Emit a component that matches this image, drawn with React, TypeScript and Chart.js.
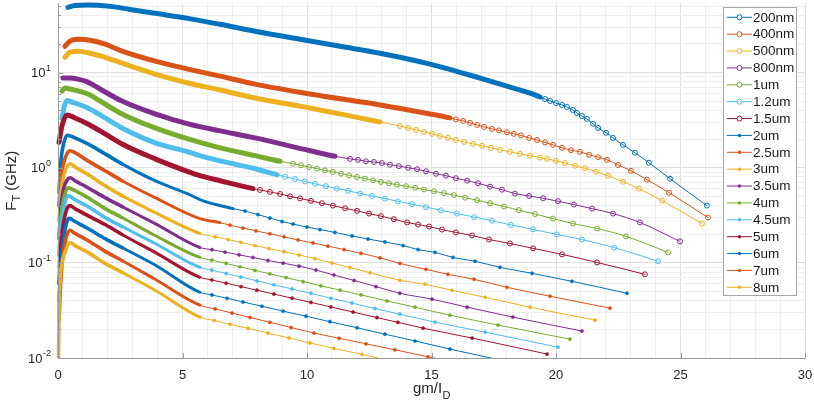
import React, { useEffect, useRef } from "react";
import { Chart, registerables } from "chart.js";

Chart.register(...registerables);

type P = [number, number];

const FONT = '"Liberation Sans", Arial, Helvetica, sans-serif';

const seriesNames = ["200nm", "400nm", "500nm", "800nm", "1um", "1.2um", "1.5um", "2um", "2.5um", "3um", "3.5um", "4um", "4.5um", "5um", "6um", "7um", "8um"];
const seriesColors = ["#0072BD", "#D95319", "#EDB120", "#7E2F8E", "#77AC30", "#4DBEEE", "#A2142F", "#0072BD", "#D95319", "#EDB120", "#7E2F8E", "#77AC30", "#4DBEEE", "#A2142F", "#0072BD", "#D95319", "#EDB120"];
const markerKinds = ["o", "o", "o", "o", "o", "o", "o", ".", ".", ".", ".", ".", ".", ".", ".", ".", "."];
// x beyond which individual markers become visible (before: overlapping markers form a band)
const denseUntil = [19.4, 15.8, 13.0, 11.2, 9.0, 8.85, 7.9, 7.1, 6.6, 5.8, 5.8, 5.8, 5.8, 5.8, 5.8, 5.8, 5.8];

const xTickValues = [0, 5, 10, 15, 20, 25, 30];
const xTickLabels = ["0", "5", "10", "15", "20", "25", "30"];
const yTickExponents = [-2, -1, 0, 1];
const xMin = 0;
const xMax = 30;
const yMin = 0.01;
const yMax = 53.3;
const xTitle = "gm/I";
const xTitleSub = "D";
const yTitle = "F";
const yTitleSub = "T";
const yTitleRest = " (GHz)";

const s200nm: P[] = [[0.40,48.5],[0.68,50.8],[1.20,51.5],[2.09,49.7],[2.89,46.2],[3.90,42.0],[5.22,37.2],[6.51,32.2],[7.91,27.2],[9.72,22.4],[11.33,18.9],[12.93,16.0],[14.94,12.3],[16.95,8.76],[18.15,7.05],[18.96,6.10],[19.36,5.54],[19.56,5.28],[19.76,5.03],[20.00,4.79],[20.24,4.57],[20.44,4.35],[20.68,4.05],[20.84,3.77],[21.04,3.50],[21.24,3.26],[21.49,2.89],[21.69,2.62],[22.01,2.33],[22.29,2.06],[22.69,1.74],[23.17,1.44],[23.73,1.13],[24.58,0.767],[26.06,0.40]];
const s400nm: P[] = [[0.28,18.9],[0.48,21.4],[0.80,22.4],[1.29,21.9],[1.89,19.9],[2.57,16.8],[3.90,13.2],[5.22,10.9],[6.51,9.19],[7.91,7.58],[10.12,5.96],[12.93,4.57],[14.94,3.68],[15.74,3.34],[15.98,3.22],[16.27,3.11],[16.55,2.96],[16.83,2.82],[17.11,2.69],[17.43,2.56],[17.71,2.47],[18.03,2.36],[18.31,2.27],[18.59,2.19],[18.92,2.06],[19.24,1.96],[19.56,1.85],[19.88,1.74],[20.24,1.62],[20.60,1.53],[20.96,1.47],[21.33,1.37],[21.69,1.29],[22.05,1.21],[22.49,1.07],[23.01,0.93],[23.65,0.75],[24.54,0.547],[26.10,0.300]];
const s500nm: P[] = [[0.28,14.5],[0.48,16.4],[0.80,16.8],[1.29,16.0],[1.89,14.5],[2.57,12.6],[3.90,9.65],[5.22,7.77],[6.51,6.56],[7.91,5.41],[10.12,4.25],[12.93,3.03],[13.73,2.75],[14.06,2.62],[14.38,2.50],[14.70,2.38],[15.02,2.27],[15.34,2.16],[15.66,2.06],[15.98,1.96],[16.31,1.87],[16.67,1.78],[17.03,1.70],[17.39,1.62],[17.75,1.54],[18.15,1.47],[18.55,1.40],[18.96,1.34],[19.36,1.28],[19.64,1.24],[20.00,1.18],[20.36,1.12],[20.76,1.05],[21.16,0.988],[21.61,0.908],[22.09,0.825],[22.69,0.714],[23.33,0.603],[24.26,0.451],[25.86,0.259]];
const s800nm: P[] = [[0.20,8.76],[0.48,8.76],[0.80,8.55],[1.20,7.95],[1.69,6.72],[2.57,5.03],[3.90,3.68],[5.22,2.89],[6.51,2.44],[7.91,2.06],[10.12,1.51],[11.12,1.32],[11.73,1.24],[12.05,1.21],[12.37,1.17],[12.69,1.15],[13.01,1.12],[13.33,1.075],[13.69,1.04],[14.06,1.00],[14.42,0.964],[14.78,0.919],[15.18,0.865],[15.58,0.825],[15.98,0.776],[16.43,0.731],[16.87,0.688],[17.35,0.633],[17.83,0.588],[18.35,0.535],[18.92,0.505],[19.48,0.478],[20.08,0.445],[20.72,0.41],[21.45,0.372],[22.29,0.330],[23.37,0.266],[24.98,0.168]];
const s1um: P[] = [[0.16,6.40],[0.28,6.88],[0.48,6.72],[1.20,5.96],[1.89,4.68],[2.57,3.68],[3.90,2.62],[5.22,2.01],[6.51,1.62],[7.91,1.34],[8.92,1.17],[9.44,1.104],[9.76,1.060],[10.08,1.019],[10.40,0.979],[10.72,0.939],[11.04,0.904],[11.37,0.868],[11.69,0.833],[12.01,0.799],[12.33,0.769],[12.65,0.738],[12.97,0.710],[13.29,0.687],[13.61,0.664],[13.98,0.639],[14.34,0.615],[14.70,0.591],[15.10,0.565],[15.50,0.541],[15.90,0.515],[16.35,0.485],[16.83,0.456],[17.35,0.425],[17.91,0.391],[18.51,0.359],[19.16,0.326],[19.88,0.292],[20.68,0.259],[21.65,0.230],[22.81,0.190],[24.50,0.129]];
const s1p2um: P[] = [[0.16,3.3],[0.24,4.3],[0.36,5.1],[0.56,4.91],[1.20,4.25],[1.89,3.34],[2.57,2.62],[3.90,1.83],[5.22,1.47],[5.70,1.34],[6.51,1.18],[7.91,0.976],[8.80,0.843],[9.12,0.805],[9.52,0.760],[9.92,0.717],[10.32,0.678],[10.76,0.640],[11.20,0.605],[11.65,0.572],[12.13,0.537],[12.61,0.506],[13.13,0.474],[13.65,0.444],[14.22,0.414],[14.78,0.386],[15.38,0.357],[16.02,0.330],[16.71,0.303],[17.43,0.277],[18.19,0.251],[19.08,0.225],[20.04,0.199],[21.04,0.176],[22.33,0.145],[24.10,0.104]];
const s1p5um: P[] = [[0.04,1.85],[0.16,2.75],[0.36,3.59],[0.68,3.34],[1.20,2.89],[1.89,2.27],[2.57,1.78],[3.90,1.24],[5.22,0.91],[5.70,0.825],[6.51,0.731],[7.83,0.603],[8.11,0.584],[8.51,0.557],[8.92,0.530],[9.32,0.500],[9.72,0.476],[10.16,0.449],[10.60,0.424],[11.04,0.400],[11.53,0.375],[12.01,0.352],[12.49,0.330],[12.97,0.310],[13.49,0.288],[14.02,0.266],[14.46,0.253],[14.90,0.241],[15.42,0.224],[15.98,0.209],[16.63,0.194],[17.31,0.176],[18.15,0.160],[19.08,0.142],[20.24,0.123],[21.65,0.101],[23.57,0.0758]];
const s2um: P[] = [[0.04,0.55],[0.12,1.2],[0.24,1.85],[0.38,2.2],[0.68,2.06],[1.20,1.78],[1.89,1.40],[2.57,1.10],[3.90,0.731],[5.22,0.53],[5.80,0.451],[7.03,0.372],[7.51,0.350],[8.03,0.322],[8.51,0.296],[9.00,0.272],[9.44,0.256],[10.00,0.238],[10.52,0.224],[11.12,0.209],[11.81,0.192],[12.45,0.178],[13.13,0.166],[13.86,0.152],[14.46,0.138],[15.14,0.129],[15.86,0.114],[16.75,0.104],[17.75,0.0897],[19.04,0.0777],[20.64,0.0640],[22.85,0.0479]];
const s2p5um: P[] = [[0.04,0.4],[0.12,0.8],[0.24,1.15],[0.36,1.4],[0.48,1.51],[0.68,1.44],[1.20,1.18],[1.89,0.93],[2.57,0.731],[3.90,0.485],[5.70,0.292],[6.51,0.265],[6.91,0.249],[7.43,0.232],[7.95,0.217],[8.51,0.202],[9.08,0.188],[9.64,0.174],[10.24,0.162],[10.84,0.150],[11.49,0.138],[12.17,0.126],[12.93,0.113],[13.73,0.0988],[14.78,0.0855],[15.66,0.0758],[16.71,0.0672],[18.03,0.0554],[19.76,0.0446],[22.17,0.0334]];
const s3um: P[] = [[0.04,0.28],[0.12,0.55],[0.24,0.85],[0.36,1.02],[0.48,1.10],[0.68,1.02],[1.20,0.85],[1.89,0.648],[2.57,0.509],[3.90,0.338],[5.70,0.204],[6.31,0.188],[6.83,0.176],[7.35,0.164],[7.91,0.152],[8.47,0.1415],[9.08,0.131],[9.68,0.121],[10.32,0.111],[11.00,0.0998],[11.73,0.0893],[12.53,0.0788],[13.73,0.0656],[14.74,0.0596],[15.82,0.0515],[17.15,0.0435],[18.96,0.0342],[21.57,0.0250]];
const s3p5um: P[] = [[0.04,0.18],[0.12,0.4],[0.24,0.62],[0.36,0.74],[0.48,0.786],[0.68,0.731],[1.20,0.617],[1.89,0.485],[2.57,0.391],[3.90,0.259],[5.70,0.145],[6.18,0.1375],[6.71,0.1295],[7.27,0.1216],[7.83,0.1139],[8.43,0.106],[9.04,0.0993],[9.68,0.0924],[10.36,0.0841],[11.08,0.0745],[11.89,0.0653],[12.77,0.0563],[13.73,0.0479],[15.02,0.0415],[16.43,0.0342],[18.27,0.0269],[21.04,0.0192]];
const s4um: P[] = [[0.04,0.12],[0.12,0.3],[0.24,0.48],[0.40,0.617],[0.68,0.574],[1.20,0.485],[1.89,0.372],[2.57,0.30],[3.90,0.194],[5.70,0.114],[6.18,0.1067],[6.75,0.0986],[7.31,0.0911],[7.91,0.0834],[8.51,0.0767],[9.16,0.0700],[9.84,0.0636],[10.56,0.0574],[11.33,0.0516],[12.17,0.0460],[13.21,0.0398],[14.34,0.0342],[15.74,0.0282],[17.67,0.0222],[20.56,0.0158]];
const s4p5um: P[] = [[0.04,0.09],[0.12,0.22],[0.24,0.38],[0.40,0.509],[0.68,0.462],[1.20,0.391],[1.89,0.30],[2.57,0.241],[3.90,0.160],[5.70,0.0897],[6.18,0.0839],[6.75,0.0774],[7.35,0.0710],[7.99,0.0648],[8.67,0.0588],[9.40,0.0532],[10.16,0.0477],[10.96,0.0425],[11.81,0.0378],[12.73,0.0331],[13.73,0.0289],[15.14,0.0238],[17.15,0.0187],[20.08,0.0130]];
const s5um: P[] = [[0.04,0.06],[0.12,0.16],[0.24,0.28],[0.36,0.37],[0.48,0.40],[0.68,0.372],[1.20,0.314],[1.89,0.253],[2.57,0.199],[3.90,0.129],[5.70,0.0705],[6.18,0.0661],[6.75,0.0612],[7.35,0.0563],[7.99,0.0516],[8.67,0.0470],[9.40,0.0426],[10.16,0.0384],[10.96,0.0344],[11.85,0.0304],[12.81,0.0266],[13.65,0.0237],[14.66,0.0206],[16.63,0.0162],[19.64,0.0110]];
const s6um: P[] = [[0.04,0.04],[0.12,0.1],[0.24,0.19],[0.44,0.295],[0.68,0.272],[1.20,0.230],[1.89,0.180],[2.57,0.145],[3.90,0.095],[5.70,0.0491],[6.18,0.0460],[6.79,0.0424],[7.43,0.0388],[8.19,0.0350],[9.04,0.0311],[9.96,0.0275],[10.92,0.0241],[12.01,0.0208],[13.13,0.0178],[14.34,0.0151],[15.74,0.0124],[17.95,0.0093]];
const s7um: P[] = [[0.04,0.025],[0.12,0.07],[0.24,0.14],[0.48,0.22],[0.68,0.204],[1.20,0.172],[1.89,0.132],[2.57,0.106],[3.90,0.0672],[5.70,0.0359],[6.31,0.0328],[6.99,0.0297],[7.71,0.0267],[8.51,0.0237],[9.36,0.0209],[10.28,0.0183],[11.29,0.0161],[12.37,0.0141],[13.53,0.0122],[14.86,0.0103],[16.55,0.0084]];
const s8um: P[] = [[0.02,0.009],[0.04,0.03],[0.08,0.065],[0.16,0.099],[0.28,0.129],[0.48,0.164],[0.68,0.152],[1.20,0.129],[1.89,0.0988],[2.57,0.0795],[3.90,0.0515],[5.70,0.0269],[6.27,0.0248],[6.91,0.0226],[7.63,0.0205],[8.43,0.0183],[9.28,0.0162],[10.12,0.0144],[11.08,0.0126],[12.21,0.0109],[13.53,0.0091]];

const seriesData: P[][] = [s200nm, s400nm, s500nm, s800nm, s1um, s1p2um, s1p5um, s2um, s2p5um, s3um, s3p5um, s4um, s4p5um, s5um, s6um, s7um, s8um];

const isDecade = (v: number) => Math.abs(Math.log10(v) - Math.round(Math.log10(v))) < 1e-6;

const decorPlugin = {
  id: "decor",
  afterDraw(chart: any) {
    const { ctx, chartArea } = chart;
    const { left, right, top, bottom } = chartArea;
    const xs = chart.scales.x;
    const ys = chart.scales.y;
    ctx.save();

    ctx.strokeStyle = "#9a9a9a";
    ctx.lineWidth = 1;
    ctx.beginPath();
    ctx.moveTo(left + 0.5, top);
    ctx.lineTo(left + 0.5, bottom + 0.5);
    ctx.lineTo(right, bottom + 0.5);
    ctx.stroke();

    ctx.beginPath();
    xTickValues.forEach((v) => {
      const px = Math.round(xs.getPixelForValue(v)) + 0.5;
      ctx.moveTo(px, bottom);
      ctx.lineTo(px, bottom - 5);
    });
    yTickExponents.forEach((e) => {
      for (let m = 1; m <= 9; m++) {
        const v = m * Math.pow(10, e);
        if (v > yMax) break;
        const py = Math.round(ys.getPixelForValue(v)) + 0.5;
        ctx.moveTo(left, py);
        ctx.lineTo(left + (m === 1 ? 5 : 3), py);
      }
    });
    ctx.stroke();

    ctx.fillStyle = "#262626";
    ctx.font = `13px ${FONT}`;
    ctx.textAlign = "center";
    ctx.textBaseline = "alphabetic";
    xTickValues.forEach((v, i) => {
      ctx.fillText(xTickLabels[i], xs.getPixelForValue(v), 379);
    });

    yTickExponents.forEach((e) => {
      const py = ys.getPixelForValue(Math.pow(10, e));
      const expStr = String(e);
      ctx.font = `9px ${FONT}`;
      const ew = ctx.measureText(expStr).width;
      const rightEdge = 51;
      ctx.textAlign = "left";
      ctx.fillText(expStr, rightEdge - ew, py - 2);
      ctx.font = `13px ${FONT}`;
      ctx.textAlign = "right";
      ctx.fillText("10", rightEdge - ew - 0.5, py + 4.6);
    });

    ctx.textAlign = "left";
    ctx.font = `15px ${FONT}`;
    const w1 = ctx.measureText(xTitle).width;
    ctx.font = `11px ${FONT}`;
    const w2 = ctx.measureText(xTitleSub).width;
    const cx = (left + right) / 2;
    const sx = cx - (w1 + w2) / 2;
    ctx.font = `15px ${FONT}`;
    ctx.fillText(xTitle, sx, 393);
    ctx.font = `11px ${FONT}`;
    ctx.fillText(xTitleSub, sx + w1 + 0.5, 399);

    ctx.save();
    ctx.translate(16, (top + bottom) / 2);
    ctx.rotate(-Math.PI / 2);
    ctx.font = `15px ${FONT}`;
    const a = ctx.measureText(yTitle).width;
    const c = ctx.measureText(yTitleRest).width;
    ctx.font = `11px ${FONT}`;
    const b = ctx.measureText(yTitleSub).width;
    const tot = a + b + c;
    let tx = -tot / 2;
    ctx.font = `15px ${FONT}`;
    ctx.fillText(yTitle, tx, 0);
    tx += a;
    ctx.font = `11px ${FONT}`;
    ctx.fillText(yTitleSub, tx, 4);
    tx += b;
    ctx.font = `15px ${FONT}`;
    ctx.fillText(yTitleRest, tx, 0);
    ctx.restore();

    const bx = 723, by = 7, bw = 74, bh = 289;
    ctx.fillStyle = "#ffffff";
    ctx.fillRect(bx, by, bw, bh);
    ctx.strokeStyle = "#a8a8a8";
    ctx.lineWidth = 1;
    ctx.strokeRect(bx + 0.5, by + 0.5, bw - 1, bh - 1);
    ctx.font = `13.5px ${FONT}`;
    ctx.textAlign = "left";
    ctx.textBaseline = "middle";
    seriesNames.forEach((name, i) => {
      const cy = 17.3 + i * 16.875;
      const col = seriesColors[i];
      ctx.strokeStyle = col;
      ctx.lineWidth = 1;
      ctx.beginPath();
      ctx.moveTo(727, cy);
      ctx.lineTo(752, cy);
      ctx.stroke();
      ctx.beginPath();
      if (markerKinds[i] === "o") {
        ctx.arc(739.5, cy, 2.5, 0, Math.PI * 2);
        ctx.fillStyle = "#ffffff";
        ctx.fill();
        ctx.stroke();
      } else {
        ctx.arc(739.5, cy, 1.7, 0, Math.PI * 2);
        ctx.fillStyle = col;
        ctx.fill();
      }
      ctx.fillStyle = "#1a1a1a";
      ctx.fillText(name, 753, cy + 0.5);
    });

    ctx.restore();
  },
};

export default function App() {
  const ref = useRef<HTMLCanvasElement>(null);

  useEffect(() => {
    const canvas = ref.current;
    if (!canvas) return;

    const datasets = seriesData.map((pts, i) => {
      const data = pts.map(([x, y]) => ({ x, y }));
      const isO = markerKinds[i] === "o";
      const lim = denseUntil[i];
      const col = seriesColors[i];
      return {
        label: seriesNames[i],
        data,
        borderColor: col,
        backgroundColor: col,
        borderWidth: 1,
        borderCapStyle: "round",
        borderJoinStyle: "round",
        pointStyle: "circle",
        pointRadius: (c: any) => {
          const d = data[c.dataIndex];
          return d && d.x > lim ? (isO ? 2.5 : 1.6) : 0;
        },
        pointHoverRadius: 0,
        pointBorderWidth: isO ? 1 : 0.6,
        pointBorderColor: col,
        pointBackgroundColor: isO ? "rgba(255,255,255,0)" : col,
        cubicInterpolationMode: "monotone",
        segment: {
          borderWidth: (c: any) => {
            const x1 = data[c.p1DataIndex].x;
            if (x1 > lim) return 1;
            if (isO) return 5;
            return x1 < 2.6 ? 3.6 : 3;
          },
        },
        clip: { left: 8, top: 8, right: 8, bottom: 0 },
        order: 30 - i,
      };
    });

    const xTicksAll: number[] = [];
    for (let v = xMin; v <= xMax; v++) xTicksAll.push(v);
    const yTicksAll: number[] = [];
    yTickExponents.forEach((e) => {
      for (let m = 1; m <= 9; m++) {
        const v = m * Math.pow(10, e);
        if (v <= yMax) yTicksAll.push(v);
      }
    });

    const chart = new Chart(canvas, {
      type: "line",
      data: { datasets: datasets as any },
      options: {
        animation: false,
        responsive: false,
        devicePixelRatio: 1,
        events: [],
        layout: { padding: { left: 58, right: 9, top: 2, bottom: 48 } },
        plugins: { legend: { display: false }, tooltip: { enabled: false } },
        scales: {
          x: {
            type: "linear",
            min: xMin,
            max: xMax,
            afterBuildTicks: (s: any) => {
              s.ticks = xTicksAll.map((v) => ({ value: v }));
            },
            afterFit: (s: any) => {
              s.height = 0;
            },
            ticks: { display: false, autoSkip: false },
            border: { display: false },
            grid: {
              drawTicks: false,
              lineWidth: 1,
              color: (c: any) => (c.tick && c.tick.value % 5 === 0 ? "#e0e0e0" : "#efefef"),
            },
          },
          y: {
            type: "logarithmic",
            min: yMin,
            max: yMax,
            afterBuildTicks: (s: any) => {
              s.ticks = yTicksAll.map((v) => ({ value: v }));
            },
            afterFit: (s: any) => {
              s.width = 0;
            },
            ticks: { display: false, autoSkip: false },
            border: { display: false },
            grid: {
              drawTicks: false,
              lineWidth: 1,
              color: (c: any) => (c.tick && isDecade(c.tick.value) ? "#e0e0e0" : "#efefef"),
            },
          },
        },
      } as any,
      plugins: [decorPlugin],
    });

    return () => {
      chart.destroy();
    };
  }, []);

  return (
    <div style={{ position: "absolute", left: 0, top: 0, width: 814, height: 406, background: "#ffffff" }}>
      <canvas ref={ref} width={814} height={406} style={{ display: "block", width: 814, height: 406 }} />
    </div>
  );
}
